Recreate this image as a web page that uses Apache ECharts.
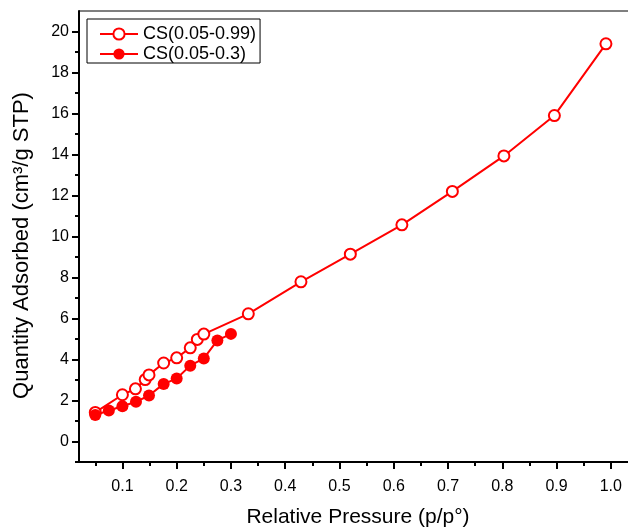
<!DOCTYPE html>
<html>
<head>
<meta charset="utf-8">
<script src="https://cdn.jsdelivr.net/npm/echarts@6/dist/echarts.min.js"></script>
<style>html,body{margin:0;padding:0;background:#fff}#c{width:628px;height:530px}</style>
</head>
<body>
<div id="c"></div>
<script>
// Series: CS(0.05-0.99) (open circles)
const openX = [0.05, 0.1, 0.124, 0.142, 0.149, 0.176, 0.2, 0.225, 0.238, 0.25, 0.332, 0.429, 0.52, 0.615, 0.708, 0.803, 0.896, 0.991];
const openY = [1.42, 2.28, 2.57, 3.02, 3.25, 3.83, 4.08, 4.57, 4.98, 5.24, 6.23, 7.79, 9.14, 10.57, 12.2, 13.93, 15.9, 19.4];
// Series: CS(0.05-0.3) (filled circles)
const fillX = [0.05, 0.075, 0.1, 0.125, 0.149, 0.176, 0.2, 0.225, 0.25, 0.275, 0.3];
const fillY = [1.29, 1.51, 1.72, 1.94, 2.24, 2.81, 3.07, 3.7, 4.05, 4.93, 5.25];
const seriesNames = ['CS(0.05-0.99)', 'CS(0.05-0.3)'];
// Tick values
const xMajorTicks = [0.1, 0.2, 0.3, 0.4, 0.5, 0.6, 0.7, 0.8, 0.9, 1.0];
const xMinorTicks = [0.05, 0.15, 0.25, 0.35, 0.45, 0.55, 0.65, 0.75, 0.85, 0.95];
const yMajorTicks = [0, 2, 4, 6, 8, 10, 12, 14, 16, 18, 20];
const yMinorTicks = [-1, 1, 3, 5, 7, 9, 11, 13, 15, 17, 19];
const xTitle = 'Relative Pressure (p/p°)';
const yTitle = 'Quantity Adsorbed (cm³/g STP)';

const FONT = '"Liberation Sans", Arial, sans-serif';
const X_MIN = 0.02, X_MAX = 1.0335, Y_MIN = -1, Y_MAX = 21;

const chart = echarts.init(document.getElementById('c'), null, {renderer: 'canvas'});
const pairs = (xs, ys) => xs.map((x, i) => [x, ys[i]]);

chart.setOption({
  animation: false,
  backgroundColor: '#fff',
  grid: {left: 79, right: -1, top: 11, bottom: 68, show: true, borderColor: '#000', borderWidth: 1, backgroundColor: 'transparent', outerBoundsMode: 'none', containLabel: false},
  legend: {
    left: 87, top: 19, orient: 'vertical',
    borderColor: '#000', borderWidth: 1, backgroundColor: '#fff',
    padding: [6, 4, 0, 12], itemGap: 2, itemWidth: 38, itemHeight: 14,
    textStyle: {fontFamily: FONT, fontSize: 18, color: '#000'},
    data: seriesNames
  },
  xAxis: [{
    type: 'value', min: X_MIN, max: X_MAX, position: 'bottom',
    name: xTitle, nameLocation: 'middle', nameGap: 45,
    nameTextStyle: {fontFamily: FONT, fontSize: 21, color: '#000', padding: [0, 0, 0, 8]},
    axisLine: {show: true, onZero: false, lineStyle: {color: '#000', width: 2}},
    axisTick: {show: true, inside: false, length: 7, lineStyle: {color: '#000', width: 2}, customValues: xMajorTicks},
    axisLabel: {show: true, margin: 17, fontFamily: FONT, fontSize: 16, color: '#000', customValues: xMajorTicks, formatter: v => v.toFixed(1)},
    splitLine: {show: false}, minorTick: {show: false}
  }, {
    type: 'value', min: X_MIN, max: X_MAX, position: 'bottom', offset: 0,
    axisLine: {show: false, onZero: false},
    axisTick: {show: true, inside: false, length: 4, lineStyle: {color: '#000', width: 2}, customValues: xMinorTicks},
    axisLabel: {show: false}, splitLine: {show: false}
  }],
  yAxis: [{
    type: 'value', min: Y_MIN, max: Y_MAX, position: 'left',
    name: yTitle, nameLocation: 'middle', nameGap: 46,
    nameTextStyle: {fontFamily: FONT, fontSize: 22, color: '#000', padding: [0, 18, 0, 0]},
    axisLine: {show: true, onZero: false, lineStyle: {color: '#000', width: 2}},
    axisTick: {show: true, inside: false, length: 7, lineStyle: {color: '#000', width: 2}, customValues: yMajorTicks},
    axisLabel: {show: true, margin: 10, fontFamily: FONT, fontSize: 16, color: '#000', customValues: yMajorTicks},
    splitLine: {show: false}
  }, {
    type: 'value', min: Y_MIN, max: Y_MAX, position: 'left', offset: 0,
    axisLine: {show: false, onZero: false},
    axisTick: {show: true, inside: false, length: 4, lineStyle: {color: '#000', width: 2}, customValues: yMinorTicks},
    axisLabel: {show: false}, splitLine: {show: false}
  }],
  series: [{
    name: seriesNames[0], type: 'line', xAxisIndex: 0, yAxisIndex: 0,
    data: pairs(openX, openY),
    symbol: 'emptyCircle', symbolSize: 11, showAllSymbol: true,
    lineStyle: {color: '#ff0000', width: 2},
    itemStyle: {color: '#ff0000', borderColor: '#ff0000', borderWidth: 1.2},
    z: 2
  }, {
    name: seriesNames[1], type: 'line', xAxisIndex: 0, yAxisIndex: 0,
    data: pairs(fillX, fillY),
    symbol: 'circle', symbolSize: 12, showAllSymbol: true,
    lineStyle: {color: '#ff0000', width: 2},
    itemStyle: {color: '#ff0000'},
    z: 3
  }]
});
</script>
</body>
</html>
